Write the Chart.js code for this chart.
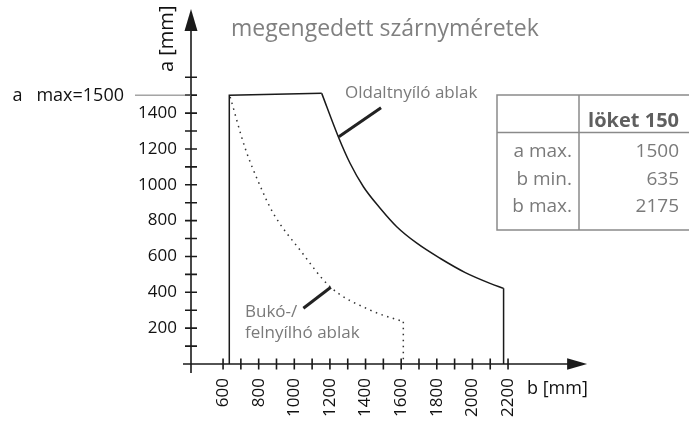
<!DOCTYPE html>
<html>
<head>
<meta charset="utf-8">
<script src="https://cdn.jsdelivr.net/npm/chart.js@4.4.1/dist/chart.umd.min.js"></script>
<style>
  html, body { margin: 0; padding: 0; background: #fff; overflow: hidden; }
  #wrap { width: 689px; height: 424px; position: relative; }
</style>
</head>
<body>
<div id="wrap"><canvas id="chart"></canvas></div>
<script>
// tick labels
const xTicks = [600, 800, 1000, 1200, 1400, 1600, 1800, 2000, 2200];
const yTicks = [200, 400, 600, 800, 1000, 1200, 1400];
const xMinor = [600, 700, 800, 900, 1000, 1100, 1200, 1300, 1400, 1500, 1600, 1700, 1800, 1900, 2000, 2100, 2200];
const yMinor = [100, 200, 300, 400, 500, 600, 700, 800, 900, 1000, 1100, 1200, 1300, 1400, 1500, 1600];

// Oldaltnyíló ablak (b, a)
const sideFrame = [{x: 635, y: 0}, {x: 635, y: 1500}, {x: 1154, y: 1510}];
const sideCurve = [
  {x: 1154, y: 1510}, {x: 1247, y: 1268}, {x: 1313, y: 1120}, {x: 1388, y: 989},
  {x: 1482, y: 869}, {x: 1575, y: 766}, {x: 1688, y: 674}, {x: 1818, y: 590},
  {x: 1960, y: 510}, {x: 2099, y: 450}, {x: 2175, y: 422}
];
const sideEnd = [{x: 2175, y: 422}, {x: 2175, y: 0}];

// Bukó-/felnyílhó ablak (b, a)
const tiltCurve = [
  {x: 640, y: 1490}, {x: 724, y: 1204}, {x: 798, y: 1017}, {x: 882, y: 841},
  {x: 1032, y: 636}, {x: 1201, y: 431}, {x: 1425, y: 301}, {x: 1612, y: 236}
];
const tiltEnd = [{x: 1612, y: 236}, {x: 1612, y: 0}];

// mutatóvonalak
const sideLeader = [{x: 1250, y: 1268}, {x: 1487, y: 1430}];
const tiltLeader = [{x: 1051, y: 311}, {x: 1205, y: 428}];

const aMax = 1500;
const tableHeader = 'löket 150';
const tableRows = ['a max.', 'b min.', 'b max.'];
const tableValues = [1500, 635, 2175];

const FONT = "'Open Sans', 'DejaVu Sans', sans-serif";

function line(data, opts) {
  return Object.assign({
    data: data, showLine: true, pointRadius: 0, borderColor: '#1a1a1a',
    borderWidth: 1.5, fill: false, tension: 0
  }, opts || {});
}

// Tengelyek, nyilak, feliratok és a táblázat
const drawingPlugin = {
  id: 'drawing',
  beforeDatasetsDraw(chart) {
    const ctx = chart.ctx;
    const xs = chart.scales.x, ys = chart.scales.y;
    const x0 = xs.getPixelForValue(420), y0 = ys.getPixelForValue(0);
    ctx.save();
    ctx.strokeStyle = '#1a1a1a';
    ctx.fillStyle = '#1a1a1a';
    ctx.lineWidth = 1.6;

    // x tengely
    const xEnd = xs.getPixelForValue(2644);
    ctx.beginPath();
    ctx.moveTo(xs.getPixelForValue(375), y0);
    ctx.lineTo(xEnd - 18, y0);
    ctx.stroke();
    ctx.beginPath();
    ctx.moveTo(xEnd, y0);
    ctx.lineTo(xEnd - 20, y0 - 5.7);
    ctx.lineTo(xEnd - 20, y0 + 5.7);
    ctx.closePath();
    ctx.fill();

    // y tengely
    const yEnd = ys.getPixelForValue(1981);
    ctx.beginPath();
    ctx.moveTo(x0, ys.getPixelForValue(-50));
    ctx.lineTo(x0, yEnd + 20);
    ctx.stroke();
    ctx.beginPath();
    ctx.moveTo(x0, yEnd);
    ctx.lineTo(x0 - 6.5, yEnd + 22);
    ctx.lineTo(x0 + 6.5, yEnd + 22);
    ctx.closePath();
    ctx.fill();

    // osztások
    ctx.beginPath();
    xMinor.forEach(v => {
      const px = xs.getPixelForValue(v);
      ctx.moveTo(px, y0 - 5.5);
      ctx.lineTo(px, y0 + 5.5);
    });
    yMinor.forEach(v => {
      const py = ys.getPixelForValue(v);
      ctx.moveTo(x0 - 6, py);
      ctx.lineTo(x0 + 6, py);
    });
    ctx.stroke();

    // a max vonal
    const yMax = ys.getPixelForValue(aMax);
    ctx.strokeStyle = '#777';
    ctx.lineWidth = 1;
    ctx.beginPath();
    ctx.moveTo(135, yMax);
    ctx.lineTo(x0, yMax);
    ctx.stroke();
    ctx.restore();
  },
  afterDraw(chart) {
    const ctx = chart.ctx;
    const x0 = chart.scales.x.getPixelForValue(420);
    const yMax = chart.scales.y.getPixelForValue(aMax);
    ctx.save();
    ctx.textBaseline = 'alphabetic';

    // cím
    ctx.fillStyle = '#808080';
    ctx.font = '23px ' + FONT;
    ctx.textAlign = 'left';
    ctx.fillText('megengedett szárnyméretek', 231, 36);

    // tengelyfeliratok
    ctx.fillStyle = '#111';
    ctx.font = '20px ' + FONT;
    ctx.save();
    ctx.translate(x0 - 18, 72);
    ctx.rotate(-Math.PI / 2);
    ctx.fillText('a [mm]', 0, 0);
    ctx.restore();
    ctx.font = '18px ' + FONT;
    ctx.fillText('b [mm]', 527, 394);
    ctx.textAlign = 'right';
    ctx.fillText('a   max=1500', 124, yMax + 6);

    // sorozat feliratok
    ctx.font = '17px ' + FONT;
    ctx.fillStyle = '#7a7a7a';
    ctx.textAlign = 'left';
    ctx.fillText('Oldaltnyíló ablak', 345, 98);
    ctx.fillText('Bukó-/', 245, 317);
    ctx.fillText('felnyílhó ablak', 245, 338);

    // táblázat
    ctx.strokeStyle = '#8a8a8a';
    ctx.lineWidth = 1.5;
    ctx.strokeRect(497, 95, 200, 135);
    ctx.beginPath();
    ctx.moveTo(579, 95); ctx.lineTo(579, 230);
    ctx.moveTo(497, 132.5); ctx.lineTo(689, 132.5);
    ctx.stroke();
    ctx.textAlign = 'right';
    ctx.fillStyle = '#5f5f5f';
    ctx.font = 'bold 20px ' + FONT;
    ctx.fillText(tableHeader, 679, 127);
    ctx.font = '19px ' + FONT;
    ctx.fillStyle = '#7a7a7a';
    tableRows.forEach((r, i) => {
      const by = 157 + i * 27.5;
      ctx.fillText(r, 572, by);
      ctx.fillText(String(tableValues[i]), 679, by);
    });
    ctx.restore();
  }
};

const ctx = document.getElementById('chart').getContext('2d');
new Chart(ctx, {
  type: 'scatter',
  data: {
    datasets: [
      line(sideFrame),
      line(sideCurve, {cubicInterpolationMode: 'monotone'}),
      line(sideEnd),
      line(tiltCurve, {cubicInterpolationMode: 'monotone', borderDash: [1.5, 4.5], borderColor: '#333'}),
      line(tiltEnd, {borderDash: [1.5, 4.5], borderColor: '#333'}),
      line(sideLeader, {borderWidth: 3, borderColor: '#222'}),
      line(tiltLeader, {borderWidth: 3, borderColor: '#222'})
    ]
  },
  options: {
    responsive: true,
    maintainAspectRatio: false,
    animation: false,
    layout: {padding: 0},
    plugins: {legend: {display: false}, tooltip: {enabled: false}, title: {display: false}},
    scales: {
      x: {
        type: 'linear', min: 420, max: 3216,
        grid: {display: false, drawTicks: false},
        border: {display: false},
        afterBuildTicks: s => { s.ticks = xTicks.map(v => ({value: v})); },
        afterFit: s => { s.height = 60; s.paddingLeft = 0; s.paddingRight = 0; },
        ticks: {
          autoSkip: false, minRotation: 90, maxRotation: 90, padding: 14,
          color: '#111', font: {family: FONT, size: 17},
          callback: v => String(v)
        }
      },
      y: {
        type: 'linear', min: 0, max: 2031,
        grid: {display: false, drawTicks: false},
        border: {display: false},
        afterBuildTicks: s => { s.ticks = yTicks.map(v => ({value: v})); },
        afterFit: s => { s.width = 191; s.paddingTop = 0; s.paddingBottom = 0; },
        ticks: {padding: 14, color: '#111', font: {family: FONT, size: 17}, callback: v => String(v)}
      }
    }
  },
  plugins: [drawingPlugin]
});
</script>
</body>
</html>
